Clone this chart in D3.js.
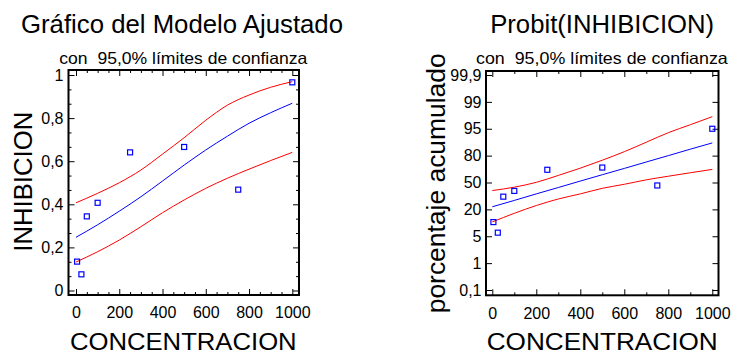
<!DOCTYPE html>
<html><head><meta charset="utf-8">
<script src="https://cdn.jsdelivr.net/npm/d3@7"></script>
<style>
body{margin:0;background:#fff;}
svg{display:block;}
text{font-family:"Liberation Sans",Arial,sans-serif;fill:#000;}
</style>
</head><body>
<svg id="c" width="733" height="355"></svg>
<script>
// ---- data ----
const concentracion = [5, 25, 50, 100, 250, 500, 750, 1000];
const inhibicion = [0.134, 0.075, 0.344, 0.407, 0.641, 0.666, 0.468, 0.966];
const porcentaje = [12.9, 7.0, 34.2, 40.6, 64.2, 66.7, 46.7, 95.0];

const curveX = [0, 100, 200, 300, 400, 500, 600, 700, 800, 900, 1000];
const ajuste = [0.247, 0.305, 0.368, 0.435, 0.508, 0.582, 0.652, 0.716, 0.776, 0.825, 0.869];
const limSup = [0.407, 0.451, 0.500, 0.559, 0.633, 0.709, 0.790, 0.860, 0.907, 0.943, 0.969];
const limInf = [0.132, 0.180, 0.234, 0.296, 0.361, 0.420, 0.474, 0.521, 0.563, 0.603, 0.641];

const ajusteProbit = [22.9, 30.0, 37.3, 44.4, 51.6, 58.7, 65.7, 72.9, 80.0, 83.6, 87.1];
const limSupProbit = [41.0, 44.8, 50.2, 57.9, 66.0, 74.9, 82.2, 87.5, 92.8, 95.6, 96.8];
const limInfProbit = [13.0, 17.8, 24.3, 31.6, 37.3, 43.5, 48.0, 53.0, 57.0, 60.9, 64.6];

const xTicks = [0, 200, 400, 600, 800, 1000];
const yTicksLeft = [0, 0.2, 0.4, 0.6, 0.8, 1];
const yTicksLeftLabels = ["0", "0,2", "0,4", "0,6", "0,8", "1"];
const yTicksRight = [0.1, 1, 5, 20, 50, 80, 95, 99, 99.9];
const yTicksRightLabels = ["0,1", "1", "5", "20", "50", "80", "95", "99", "99,9"];

const tituloIzq = "Gráfico del Modelo Ajustado";
const tituloDer = "Probit(INHIBICION)";
const subtitulo = "con  95,0% límites de confianza";
const xTitulo = "CONCENTRACION";
const yTituloIzq = "INHIBICION";
const yTituloDer = "porcentaje acumulado";

// ---- drawing ----
const svg = d3.select("#c");
svg.append("rect").attr("width", 733).attr("height", 355).attr("fill", "#fff");
const FONT = '"Liberation Sans",Arial,sans-serif';

function panel(cfg) {
  const { L, R, T, B } = cfg.box;
  const x = cfg.x, y = cfg.y;
  const g = svg.append("g");

  function styleAxis(sel) {
    sel.select(".domain").remove();
    sel.attr("font-family", FONT).attr("font-size", 16);
    sel.selectAll("line").attr("stroke", "#000").attr("stroke-width", 1);
  }
  // minor x ticks
  const xMinor = d3.range(0, 1001, cfg.xMinorStep).filter(v => !xTicks.includes(v));
  g.append("g").attr("transform", `translate(0,${B})`)
    .call(d3.axisBottom(x).tickValues(xMinor).tickFormat("").tickSizeInner(-3).tickSizeOuter(0)).call(styleAxis);
  g.append("g").attr("transform", `translate(0,${T})`)
    .call(d3.axisTop(x).tickValues(xMinor).tickFormat("").tickSizeInner(-3).tickSizeOuter(0)).call(styleAxis);
  // major x ticks
  g.append("g").attr("transform", `translate(0,${B})`)
    .call(d3.axisBottom(x).tickValues(xTicks).tickFormat(d => String(d)).tickSizeInner(-6).tickSizeOuter(0).tickPadding(12)).call(styleAxis);
  g.append("g").attr("transform", `translate(0,${T})`)
    .call(d3.axisTop(x).tickValues(xTicks).tickFormat("").tickSizeInner(-6).tickSizeOuter(0)).call(styleAxis);

  // y minor ticks
  if (cfg.yMinor) {
    g.append("g").attr("transform", `translate(${L},0)`)
      .call(d3.axisLeft(y).tickValues(cfg.yMinor).tickFormat("").tickSizeInner(-3).tickSizeOuter(0)).call(styleAxis);
    g.append("g").attr("transform", `translate(${R},0)`)
      .call(d3.axisRight(y).tickValues(cfg.yMinor).tickFormat("").tickSizeInner(-3).tickSizeOuter(0)).call(styleAxis);
  }
  // y major
  g.append("g").attr("transform", `translate(${L},0)`)
    .call(d3.axisLeft(y).tickValues(cfg.yTicks).tickFormat((d, i) => cfg.yLabels[i]).tickSizeInner(-6).tickSizeOuter(0).tickPadding(cfg.yPad)).call(styleAxis);
  g.append("g").attr("transform", `translate(${R},0)`)
    .call(d3.axisRight(y).tickValues(cfg.yTicks).tickFormat("").tickSizeInner(-6).tickSizeOuter(0)).call(styleAxis);

  // curves
  const line = d3.line().x(d => x(d[0])).y(d => y(d[1])).curve(d3.curveMonotoneX);
  const series = [
    { v: cfg.lo, c: "#ff0000" },
    { v: cfg.hi, c: "#ff0000" },
    { v: cfg.fit, c: "#0000ff" }
  ];
  series.forEach(s => {
    g.append("path").datum(curveX.map((cx, i) => [cx, s.v[i]]))
      .attr("d", line).attr("fill", "none").attr("stroke", s.c).attr("stroke-width", 1);
  });

  // points
  g.selectAll("rect.pt").data(concentracion.map((c, i) => [c, cfg.pts[i]])).join("rect")
    .attr("class", "pt")
    .attr("x", d => x(d[0]) - 2.5).attr("y", d => y(d[1]) - 2.5)
    .attr("width", 5).attr("height", 5)
    .attr("fill", "none").attr("stroke", "#0000ff").attr("stroke-width", 1.2);

  // frame
  g.append("rect").attr("x", L).attr("y", T).attr("width", R - L).attr("height", B - T)
    .attr("fill", "none").attr("stroke", "#000").attr("stroke-width", 2);

  // texts
  g.append("text").attr("x", cfg.titleCx).attr("y", 32.5).attr("text-anchor", "middle")
    .attr("font-size", 25.5).attr("textLength", cfg.titleLen).attr("lengthAdjust", "spacingAndGlyphs").text(cfg.title);
  g.append("text").attr("x", cfg.subCx).attr("y", cfg.subY).attr("text-anchor", "middle")
    .attr("font-size", 16.5).attr("textLength", cfg.subLen).attr("lengthAdjust", "spacingAndGlyphs")
    .style("white-space", "pre").attr("xml:space", "preserve").text(subtitulo);
  g.append("text").attr("x", cfg.xtCx).attr("y", 349.5).attr("text-anchor", "middle")
    .attr("font-size", 24.5).attr("textLength", cfg.xtLen).attr("lengthAdjust", "spacingAndGlyphs").text(xTitulo);
  g.append("text").attr("transform", `translate(${cfg.ytX},${cfg.ytCy}) rotate(-90)`).attr("text-anchor", "middle")
    .attr("font-size", cfg.ytSize).attr("textLength", cfg.ytLen).attr("lengthAdjust", "spacingAndGlyphs").text(cfg.yTitle);
}

// left panel
const boxL = { L: 68.5, R: 299, T: 70, B: 295 };
const xL = d3.scaleLinear().domain([0, 1000]).range([76, 292.3]);
const yL = d3.scaleLinear().domain([0, 1]).range([290.5, 75]);
const yMinorL = d3.range(0, 16).map(i => i / 15).filter(v => !yTicksLeft.some(t => Math.abs(t - v) < 1e-6));
panel({
  box: boxL, x: xL, y: yL, xMinorStep: 50,
  yTicks: yTicksLeft, yLabels: yTicksLeftLabels, yMinor: yMinorL, yPad: 5,
  fit: ajuste, hi: limSup, lo: limInf, pts: inhibicion,
  title: tituloIzq, titleCx: 182, titleLen: 322,
  subCx: 183.3, subY: 63.5, subLen: 248,
  xtCx: 183.3, xtLen: 226.7,
  yTitle: yTituloIzq, ytX: 31.5, ytCy: 181.7, ytSize: 26, ytLen: 140
});

// right panel
const boxR = { L: 486, R: 718.5, T: 71, B: 295.3 };
const xR = d3.scaleLinear().domain([0, 1000]).range([492.3, 712.3]);
const nR = yTicksRight.length;
const yR = d3.scaleLinear().domain(yTicksRight)
  .range(yTicksRight.map((d, i) => 290 - i * (290 - 75) / (nR - 1)));
panel({
  box: boxR, x: xR, y: yR, xMinorStep: 100,
  yTicks: yTicksRight, yLabels: yTicksRightLabels, yMinor: null, yPad: 4.5,
  fit: ajusteProbit, hi: limSupProbit, lo: limInfProbit, pts: porcentaje,
  title: tituloDer, titleCx: 602.2, titleLen: 224,
  subCx: 601.9, subY: 64.3, subLen: 251.7,
  xtCx: 602.2, xtLen: 231,
  yTitle: yTituloDer, ytX: 445, ytCy: 183.3, ytSize: 26, ytLen: 260
});
</script>
</body></html>
